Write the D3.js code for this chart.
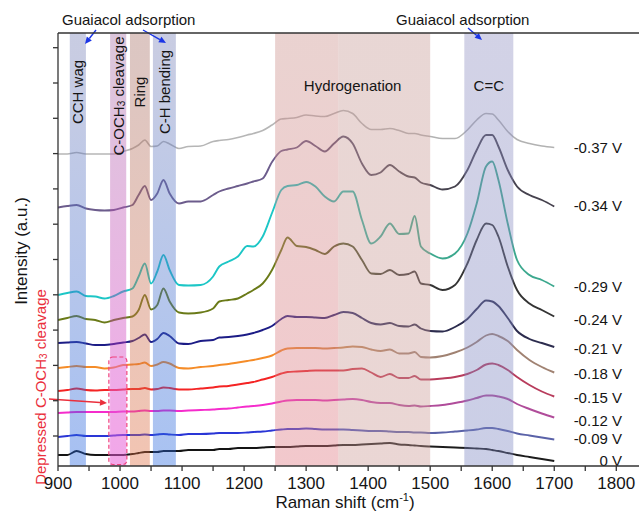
<!DOCTYPE html>
<html lang="en">
<head>
<meta charset="UTF-8">
<title>Raman spectra</title>
<script src="https://d3js.org/d3.v7.min.js"></script>
<style>
  body { margin: 0; background: #fff; }
  svg text { font-family: "Liberation Sans", Arial, sans-serif; fill: #151515; }
</style>
</head>
<body>
<svg id="raman" width="639" height="517"></svg>
<script>
// Raman shift grid (cm-1), shared by every spectrum
const shifts = [900, 915, 930, 945, 960, 975, 990, 1005, 1020,
  1030, 1040, 1050, 1060, 1070, 1080,
  1095, 1110, 1130, 1150, 1160, 1175, 1190, 1205, 1215, 1230, 1245,
  1260, 1270, 1285, 1300, 1315, 1330, 1345, 1360, 1375, 1390, 1405, 1420, 1435, 1450, 1465, 1475, 1485, 1500,
  1520, 1540, 1560, 1575, 1590, 1600, 1610, 1625, 1640, 1660, 1680, 1700];

// stacked intensities (a.u., offsets included), one array per potential
const spec_0 = [110, 110, 150, 120, 110, 110, 110, 110, 120,
  130, 140, 140, 140, 150, 150,
  150, 160, 160, 160, 170, 170, 180, 180, 180, 185, 190,
  190, 190, 195, 200, 200, 200, 205, 210, 210, 215, 220, 225, 230, 215, 210, 205, 200, 195,
  190, 185, 180, 175, 170, 160, 150, 130, 110, 90, 70, 50];
const spec_009 = [290, 300, 310, 300, 300, 300, 305, 310, 310,
  310, 315, 310, 315, 320, 315,
  310, 320, 320, 325, 330, 330, 330, 335, 340, 345, 355,
  365, 370, 370, 375, 370, 365, 365, 365, 360, 355, 350, 350, 345, 340, 340, 335, 335, 330,
  335, 345, 355, 365, 380, 380, 370, 350, 325, 305, 285, 265];
const spec_012 = [530, 535, 540, 540, 540, 540, 540, 545, 545,
  550, 555, 550, 550, 555, 555,
  550, 555, 560, 565, 570, 575, 585, 595, 600, 610, 625,
  645, 655, 660, 660, 660, 655, 660, 665, 670, 660, 640, 630, 630, 610, 600, 605, 595, 600,
  610, 630, 655, 680, 705, 705, 695, 670, 620, 570, 525, 485];
const spec_015 = [750, 760, 775, 760, 755, 760, 760, 765, 770,
  770, 780, 765, 770, 785, 780,
  765, 765, 775, 785, 795, 800, 815, 830, 840, 865, 890,
  925, 940, 945, 950, 955, 955, 955, 955, 970, 975, 935, 890, 920, 880, 880, 900, 865, 865,
  875, 890, 920, 960, 1015, 1025, 1010, 960, 890, 810, 745, 695];
const spec_018 = [980, 990, 1000, 990, 990, 975, 985, 1010, 1015,
  1020, 1035, 1000, 1015, 1040, 1025,
  980, 975, 990, 1000, 1010, 1020, 1035, 1050, 1060, 1080, 1105,
  1155, 1175, 1180, 1180, 1180, 1175, 1180, 1185, 1195, 1190, 1165, 1150, 1165, 1125, 1125, 1140, 1090, 1085,
  1100, 1135, 1185, 1240, 1305, 1320, 1300, 1250, 1160, 1060, 990, 935];
const spec_021 = [1230, 1235, 1240, 1225, 1210, 1210, 1220, 1235, 1250,
  1280, 1315, 1240, 1270, 1330, 1300,
  1225, 1220, 1250, 1260, 1285, 1290, 1300, 1315, 1330, 1360, 1400,
  1470, 1500, 1490, 1490, 1485, 1480, 1510, 1540, 1530, 1480, 1430, 1415, 1430, 1400, 1395, 1415, 1375, 1350,
  1345, 1390, 1470, 1570, 1655, 1645, 1600, 1480, 1350, 1270, 1230, 1190];
const spec_024 = [1460, 1480, 1500, 1470, 1460, 1435, 1460, 1480, 1495,
  1560, 1710, 1565, 1610, 1775, 1645,
  1535, 1525, 1535, 1575, 1645, 1660, 1675, 1725, 1760, 1825, 1960,
  2160, 2285, 2200, 2190, 2160, 2120, 2195, 2225, 2195, 2060, 1925, 1920, 1960, 1910, 1920, 1945, 1825, 1810,
  1760, 1810, 2025, 2260, 2425, 2410, 2295, 1995, 1760, 1625, 1560, 1495];
const spec_029 = [1710, 1730, 1745, 1700, 1695, 1675, 1700, 1745, 1775,
  1895, 2025, 1825, 1945, 2110, 1960,
  1810, 1805, 1810, 1895, 1995, 2045, 2095, 2200, 2195, 2295, 2530,
  2760, 2800, 2810, 2840, 2795, 2695, 2645, 2745, 2745, 2460, 2225, 2295, 2425, 2320, 2325, 2500, 2195, 2125,
  2075, 2125, 2325, 2625, 2995, 3045, 2860, 2425, 2060, 1910, 1860, 1795];
const spec_034 = [2585, 2600, 2610, 2575, 2560, 2555, 2560, 2585, 2610,
  2710, 2800, 2660, 2725, 2860, 2725,
  2625, 2645, 2645, 2710, 2745, 2775, 2800, 2825, 2845, 2875, 3040,
  3150, 3165, 3185, 3250, 3200, 3145, 3225, 3295, 3225, 3025, 2910, 2935, 3010, 2945, 2895, 2885, 2835, 2810,
  2765, 2795, 2960, 3160, 3310, 3310, 3195, 2960, 2795, 2710, 2660, 2595];
const spec_037 = [3120, 3120, 3135, 3120, 3120, 3120, 3120, 3145, 3175,
  3210, 3260, 3195, 3200, 3245, 3220,
  3175, 3195, 3200, 3245, 3255, 3265, 3285, 3310, 3325, 3355, 3410,
  3470, 3475, 3485, 3510, 3500, 3495, 3525, 3555, 3525, 3425, 3365, 3365, 3375, 3355, 3325, 3325, 3310, 3295,
  3275, 3275, 3360, 3460, 3525, 3520, 3460, 3345, 3265, 3225, 3200, 3185];

const spectra = [spec_0, spec_009, spec_012, spec_015, spec_018, spec_021, spec_024, spec_029, spec_034, spec_037];
const potentials = ["0 V", "-0.09 V", "-0.12 V", "-0.15 V", "-0.18 V", "-0.21 V", "-0.24 V", "-0.29 V", "-0.34 V", "-0.37 V"];
const potentialLevels = [60, 280, 460, 690, 930, 1180, 1470, 1800, 2610, 3190];

// assignment bands (cm-1)
const bandStart = [919, 984, 1016, 1053, 1250, 1352, 1555];
const bandEnd   = [945, 1010, 1048, 1090, 1352, 1500, 1634];
const bandNames = ["CCH wag", "C-OCH3 cleavage", "Ring", "C-H bending", "Hydrogenation", "", "C=C"];

const xTicks = [900, 1000, 1100, 1200, 1300, 1400, 1500, 1600, 1700, 1800];
const xMinor = [950, 1050, 1150, 1250, 1350, 1450, 1550, 1650, 1750];
const yTicks = [300, 653, 1006, 1359, 1712, 2065, 2418, 2771, 3124, 3477, 3830, 4183];

// colours (start of spectrum -> end of spectrum)
const colLeft  = ["#141414", "#2a36d6", "#f52ccc", "#f42424", "#f58c28", "#1c1c86", "#6a7a18", "#1cc6c6", "#6c5c8c", "#b6b6b6"];
const colRight = ["#1c1c1c", "#5a62a8", "#b04c9a", "#b83c5c", "#a08272", "#2c2c4e", "#343434", "#3ca88e", "#46424e", "#b2b2b2"];
const bandTop    = ["#c8cce2", "#dcc6dc", "#dcc6c2", "#c8cce2", "#ead2d0", "#e8d6d4", "#d2d2e6"];
const bandBottom = ["#a6c0f2", "#f2a8e8", "#f2c4b2", "#a8c2f2", "#f2c8cc", "#ead6d4", "#caceE6"];
const bandAlpha = 0.4;

const svg = d3.select("svg#raman");
const plot = {left: 58, right: 638, top: 33, bottom: 466};

const x = d3.scaleLinear().domain([900, 1835]).range([plot.left, plot.right]);
const y = d3.scaleLinear().domain([0, 4330]).range([plot.bottom, plot.top]);

const defs = svg.append("defs");
defs.append("clipPath").attr("id", "plotClip")
    .append("rect")
    .attr("x", plot.left).attr("y", plot.top)
    .attr("width", plot.right - plot.left).attr("height", plot.bottom - plot.top);

// colour that gives the wanted look over white at the given opacity
function tint(hex, a) {
  const c = d3.rgb(hex);
  const f = v => Math.max(0, Math.min(255, (v - (1 - a) * 255) / a));
  return d3.rgb(f(c.r), f(c.g), f(c.b)).formatHex();
}

spectra.forEach((s, i) => {
  const g = defs.append("linearGradient")
      .attr("id", "lineGrad" + i)
      .attr("gradientUnits", "userSpaceOnUse")
      .attr("x1", x(1250)).attr("x2", x(1460))
      .attr("y1", 0).attr("y2", 0);
  g.append("stop").attr("offset", 0).attr("stop-color", colLeft[i]);
  g.append("stop").attr("offset", 1).attr("stop-color", colRight[i]);
});

bandStart.forEach((b, i) => {
  const g = defs.append("linearGradient")
      .attr("id", "bandGrad" + i)
      .attr("x1", 0).attr("x2", 0).attr("y1", 0).attr("y2", 1);
  g.append("stop").attr("offset", 0.05).attr("stop-color", tint(bandTop[i], bandAlpha));
  g.append("stop").attr("offset", 1).attr("stop-color", tint(bandBottom[i], bandAlpha));
});

const lineArea = svg.append("g").attr("clip-path", "url(#plotClip)");
const line = d3.line()
    .x(d => x(d[0]))
    .y(d => y(d[1]))
    .curve(d3.curveMonotoneX);

spectra.forEach((s, i) => {
  lineArea.append("path")
      .datum(shifts.map((w, k) => [w, s[k]]))
      .attr("d", line)
      .attr("fill", "none")
      .attr("stroke", `url(#lineGrad${i})`)
      .attr("stroke-width", i == 9 ? 1.6 : 1.9)
      .attr("stroke-linejoin", "round");
});

// shaded bands sit over the spectra
const bands = svg.append("g");
bandStart.forEach((b, i) => {
  bands.append("rect")
      .attr("x", x(b))
      .attr("y", plot.top)
      .attr("width", x(bandEnd[i]) - x(b))
      .attr("height", plot.bottom - plot.top)
      .attr("fill", `url(#bandGrad${i})`)
      .attr("fill-opacity", bandAlpha);
});

// dashed box: depressed C-OCH3 cleavage
svg.append("rect")
    .attr("x", x(982))
    .attr("y", y(1090))
    .attr("width", x(1011) - x(982))
    .attr("height", y(15) - y(1090))
    .attr("rx", 4)
    .attr("fill", "#f7a0f0")
    .attr("fill-opacity", 0.2)
    .attr("stroke", "#f0407c")
    .attr("stroke-width", 1.2)
    .attr("stroke-dasharray", "4,2.5");

function arrow(x1, y1, x2, y2, color) {
  const a = Math.atan2(y2 - y1, x2 - x1);
  const L = 7, w = 3.2;
  const bx = x2 - L * Math.cos(a), by = y2 - L * Math.sin(a);
  svg.append("line")
      .attr("x1", x1).attr("y1", y1).attr("x2", bx).attr("y2", by)
      .attr("stroke", color).attr("stroke-width", 1.4);
  svg.append("path")
      .attr("d", `M${x2},${y2}L${bx - w * Math.sin(a)},${by + w * Math.cos(a)}L${bx + w * Math.sin(a)},${by - w * Math.cos(a)}Z`)
      .attr("fill", color);
}

// vertical band labels
const vLabels = [0, 1, 2, 3];
const vLabelMid = [92, 96, 92, 92];
vLabels.forEach((i, k) => {
  const cx = x((bandStart[i] + bandEnd[i]) / 2);
  const t = svg.append("text")
      .attr("transform", `translate(${cx},${vLabelMid[k]}) rotate(-90)`)
      .attr("text-anchor", "middle")
      .attr("dominant-baseline", "central")
      .style("font-size", "15px");
  if (bandNames[i] == "C-OCH3 cleavage") {
    t.append("tspan").text("C-OCH");
    t.append("tspan").attr("dy", 3).style("font-size", "10px").text("3");
    t.append("tspan").attr("dy", -3).text(" cleavage");
  } else {
    t.text(bandNames[i]);
  }
});

svg.append("text")
    .attr("x", x((bandStart[4] + bandEnd[5]) / 2))
    .attr("y", 91)
    .attr("text-anchor", "middle")
    .style("font-size", "15px")
    .text(bandNames[4]);

svg.append("text")
    .attr("x", x((bandStart[6] + bandEnd[6]) / 2))
    .attr("y", 91)
    .attr("text-anchor", "middle")
    .style("font-size", "15px")
    .text(bandNames[6]);

// guaiacol adsorption notes
svg.append("text").attr("x", 62).attr("y", 25)
    .style("font-size", "15px").text("Guaiacol adsorption");
svg.append("text").attr("x", 396).attr("y", 25)
    .style("font-size", "15px").text("Guaiacol adsorption");
arrow(96, 30, 85, 44, "#1b35e6");
arrow(143, 30, 166, 43, "#1b35e6");
arrow(468, 28, 482, 40, "#1b35e6");

// red note
svg.append("text")
    .attr("transform", "translate(40,387) rotate(-90)")
    .attr("text-anchor", "middle")
    .attr("dominant-baseline", "central")
    .style("font-size", "15px")
    .style("fill", "#ea2f3c")
    .call(t => {
      t.append("tspan").text("Depressed C-OCH");
      t.append("tspan").attr("dy", 3).style("font-size", "10px").text("3");
      t.append("tspan").attr("dy", -3).text(" cleavage");
    });
arrow(49, 399, 107, 403, "#ea2f3c");

// potential labels
potentials.forEach((p, i) => {
  svg.append("text")
      .attr("x", 622)
      .attr("y", y(potentialLevels[i]))
      .attr("text-anchor", "end")
      .attr("dominant-baseline", "central")
      .style("font-size", "15px")
      .text(p);
});

// axes
const axes = svg.append("g").attr("stroke", "#333").attr("stroke-width", 1.3);
axes.append("line").attr("x1", plot.left).attr("x2", plot.right + 2)
    .attr("y1", plot.bottom).attr("y2", plot.bottom);
axes.append("line").attr("x1", plot.left).attr("x2", plot.right + 2)
    .attr("y1", plot.top).attr("y2", plot.top);
axes.append("line").attr("x1", plot.left).attr("x2", plot.left)
    .attr("y1", plot.top).attr("y2", plot.bottom);

xTicks.concat(xMinor).forEach(t => {
  axes.append("line").attr("x1", x(t)).attr("x2", x(t))
      .attr("y1", plot.bottom).attr("y2", plot.bottom + 5);
});
yTicks.forEach(t => {
  axes.append("line").attr("x1", plot.left - 5).attr("x2", plot.left)
      .attr("y1", y(t)).attr("y2", y(t));
});

xTicks.forEach(t => {
  svg.append("text")
      .attr("x", x(t))
      .attr("y", 489)
      .attr("text-anchor", "middle")
      .style("font-size", "17px")
      .text(t);
});

svg.append("text")
    .attr("x", 345)
    .attr("y", 508)
    .attr("text-anchor", "middle")
    .style("font-size", "17px")
    .call(t => {
      t.append("tspan").text("Raman shift (cm");
      t.append("tspan").attr("dy", -7).style("font-size", "11px").text("-1");
      t.append("tspan").attr("dy", 7).text(")");
    });

svg.append("text")
    .attr("transform", "translate(21,251) rotate(-90)")
    .attr("text-anchor", "middle")
    .attr("dominant-baseline", "central")
    .style("font-size", "17px")
    .text("Intensity (a.u.)");
</script>
</body>
</html>
